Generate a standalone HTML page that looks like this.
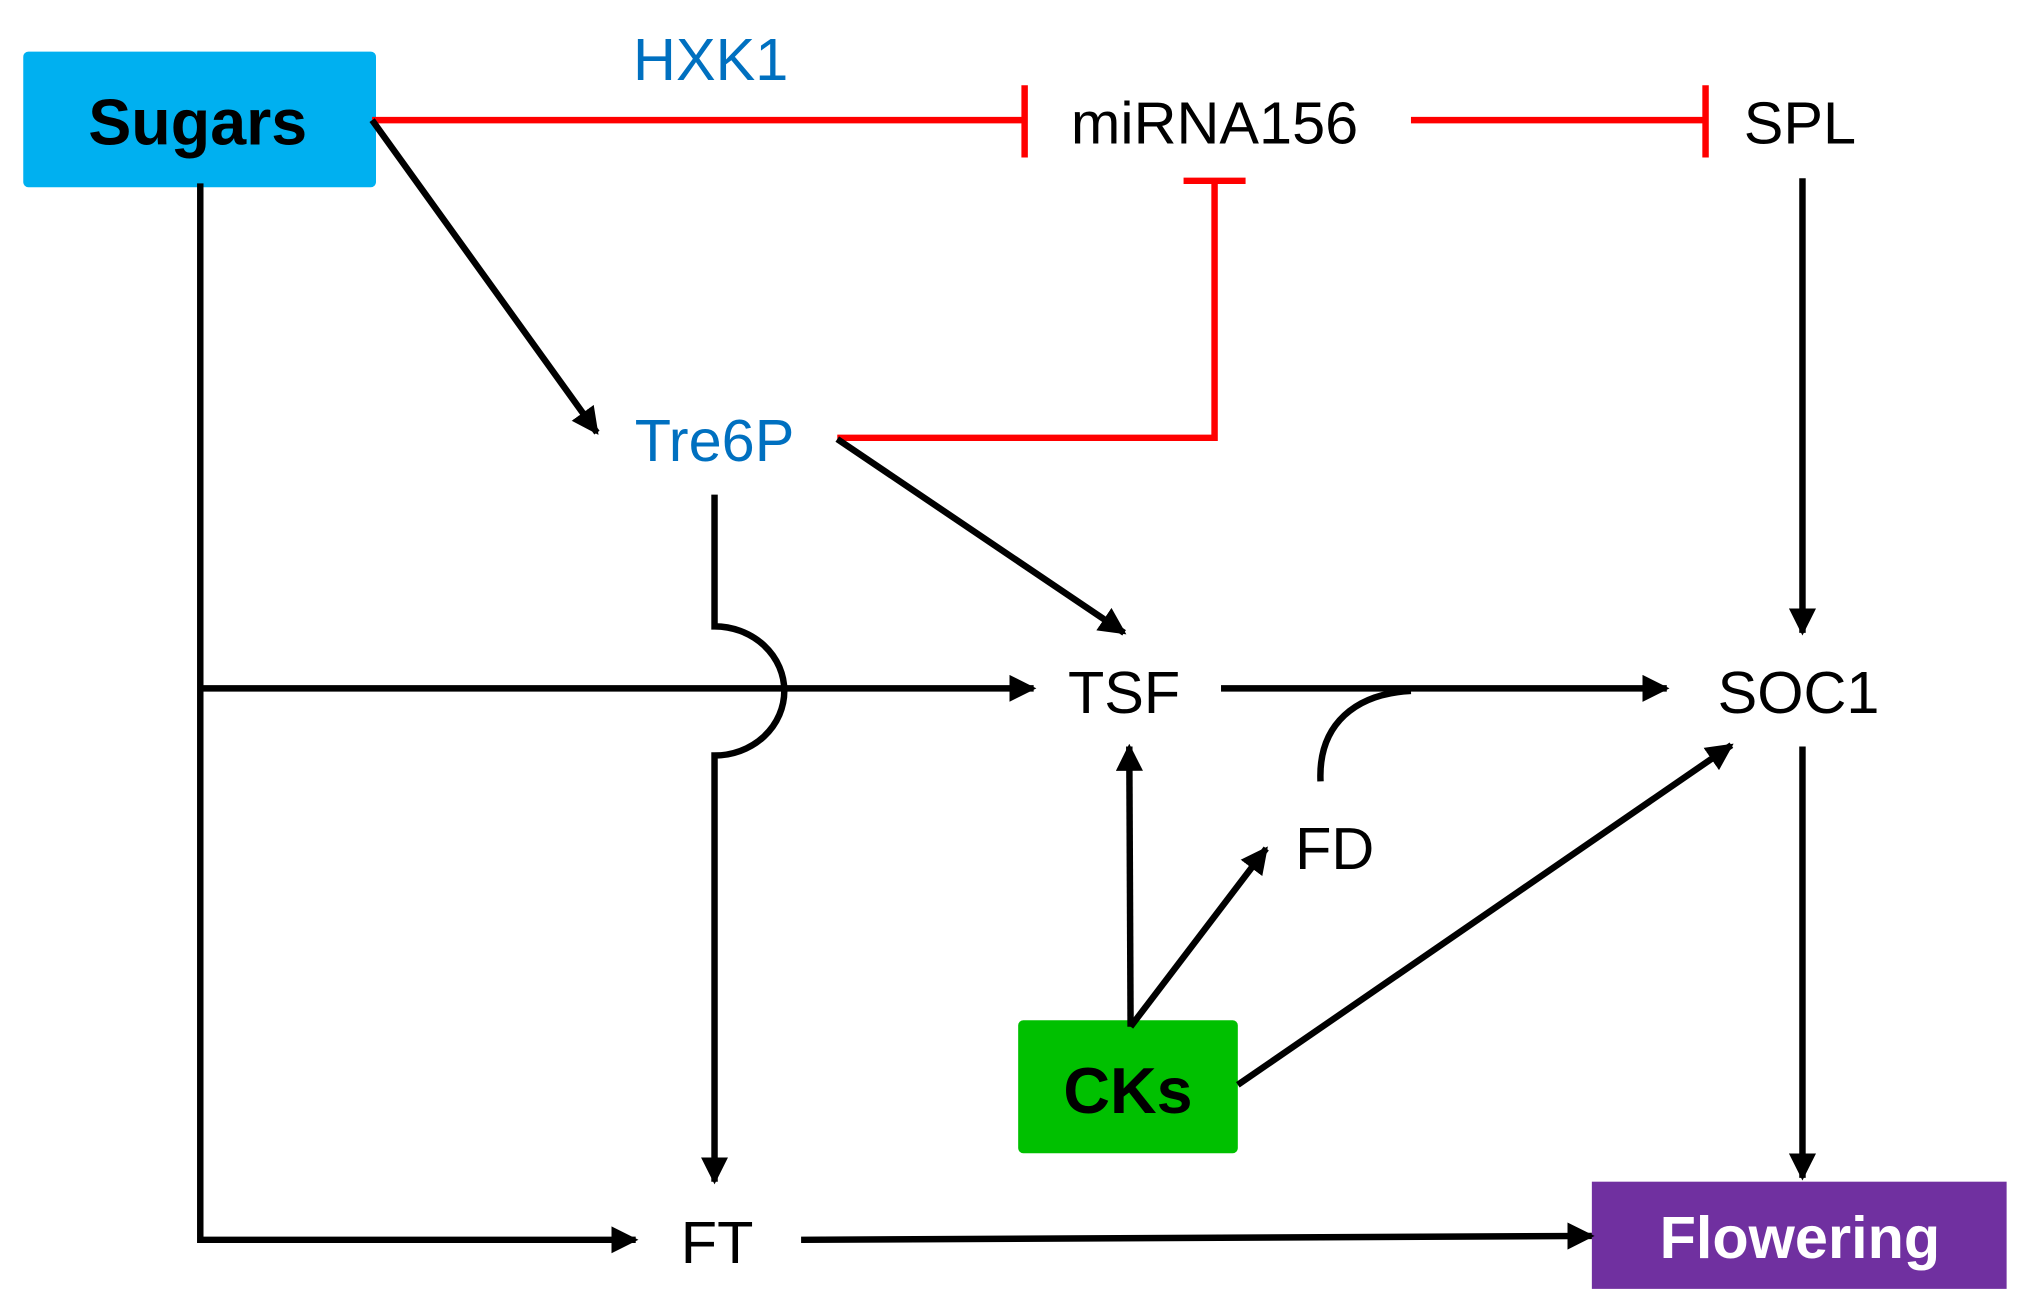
<!DOCTYPE html>
<html><head><meta charset="utf-8"><style>
html,body{margin:0;padding:0;background:#fff;}
svg{display:block;}
text{font-family:"Liberation Sans",Arial,sans-serif;}
</style></head><body>
<svg width="2026" height="1316" viewBox="0 0 1568 1019" preserveAspectRatio="none" xmlns="http://www.w3.org/2000/svg">
<defs>
<marker id="a" viewBox="0 0 10 10" refX="9" refY="5" markerWidth="4.2" markerHeight="4.2" markerUnits="strokeWidth" orient="auto">
<path d="M0,0 L10,5 L0,10 z" fill="#000"/></marker>
</defs>
<rect x="18" y="40" width="273" height="105" rx="4" fill="#00b0f0"/>
<text x="153" y="112" font-size="50" font-weight="bold" text-anchor="middle" fill="#000">Sugars</text>
<rect x="788" y="790" width="170" height="103" rx="4" fill="#00c000"/>
<text x="873" y="862" font-size="50" font-weight="bold" text-anchor="middle" fill="#000">CKs</text>
<rect x="1232" y="915" width="321" height="83" fill="#7030a0"/>
<text x="1393" y="974" font-size="46" font-weight="bold" text-anchor="middle" fill="#fff">Flowering</text>

<text x="550" y="62" font-size="46" text-anchor="middle" fill="#0070c0">HXK1</text>
<text x="940" y="111" font-size="46" text-anchor="middle" fill="#000">miRNA156</text>
<text x="1393" y="111" font-size="46" text-anchor="middle" fill="#000">SPL</text>
<text x="553" y="357" font-size="46" text-anchor="middle" fill="#0070c0">Tre6P</text>
<text x="870" y="552" font-size="46" text-anchor="middle" fill="#000">TSF</text>
<text x="1392" y="552" font-size="46" text-anchor="middle" fill="#000">SOC1</text>
<text x="1033" y="673" font-size="46" text-anchor="middle" fill="#000">FD</text>
<text x="555" y="978" font-size="46" text-anchor="middle" fill="#000">FT</text>

<g stroke="#ff0000" stroke-width="5" fill="none">
<line x1="288" y1="93" x2="793" y2="93"/>
<line x1="793" y1="66" x2="793" y2="122"/>
<line x1="1092" y1="93" x2="1320" y2="93"/>
<line x1="1320" y1="66" x2="1320" y2="122"/>
<polyline points="648,339 940,339 940,140"/>
<line x1="916" y1="140" x2="964" y2="140"/>
</g>

<g stroke="#000" stroke-width="5" fill="none">
<line x1="288" y1="93" x2="462" y2="335" marker-end="url(#a)"/>
<polyline points="155,142 155,960 492,960" marker-end="url(#a)"/>
<line x1="155" y1="533" x2="800" y2="533" marker-end="url(#a)"/>
<path d="M553,383 L553,485 A54,50 0 0 1 553,585 L553,915" marker-end="url(#a)"/>
<line x1="648" y1="340" x2="870" y2="490" marker-end="url(#a)"/>
<line x1="945" y1="533" x2="1290" y2="533" marker-end="url(#a)"/>
<path d="M1022,605 C1020,560 1050,537 1092,535"/>
<line x1="1395" y1="138" x2="1395" y2="490" marker-end="url(#a)"/>
<line x1="1395" y1="578" x2="1395" y2="912" marker-end="url(#a)"/>
<line x1="875" y1="795" x2="874" y2="578" marker-end="url(#a)"/>
<line x1="875" y1="795" x2="980" y2="657" marker-end="url(#a)"/>
<line x1="958" y1="840" x2="1340" y2="577" marker-end="url(#a)"/>
<line x1="620" y1="960" x2="1232" y2="957" marker-end="url(#a)"/>
</g>
</svg>
</body></html>
